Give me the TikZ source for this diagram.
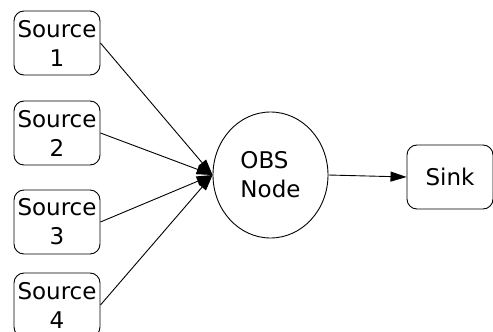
\documentclass[tikz,border=0pt]{standalone}
\usepackage{fontspec}
\setmainfont{DejaVu Sans}
\usetikzlibrary{arrows.meta,shapes.geometric}
\begin{document}
\begin{tikzpicture}[x=1pt,y=1pt,
  lbl/.style={font=\fontsize{23}{29}\selectfont},
  box/.style={draw,line width=0.9pt,rounded corners=10pt,minimum width=86pt,minimum height=64pt,align=center,inner sep=0pt,lbl},
  edge/.style={line width=0.9pt,-{Triangle[length=16pt,width=10pt]}}]
\clip (0,0) rectangle (493,-332);
\node[box] (s1) at (57,-43) {Source\\1};
\node[box] (s2) at (57,-133) {Source\\2};
\node[box] (s3) at (57,-222) {Source\\3};
\node[box] (s4) at (57,-305) {Source\\4};
\node[draw,ellipse,line width=0.9pt,minimum width=115pt,minimum height=126pt,inner sep=0pt,align=left,lbl] (obs) at (270.5,-175) {OBS\\Node};
\node[box] (sink) at (450,-177) {Sink};
\draw[edge] (s1.east) -- (obs.west);
\draw[edge] (s2.east) -- (obs.west);
\draw[edge] (s3.east) -- (obs.west);
\draw[edge] (s4.east) -- (obs.west);
\draw[edge] (obs.east) -- (sink.west);
\end{tikzpicture}
\end{document}
